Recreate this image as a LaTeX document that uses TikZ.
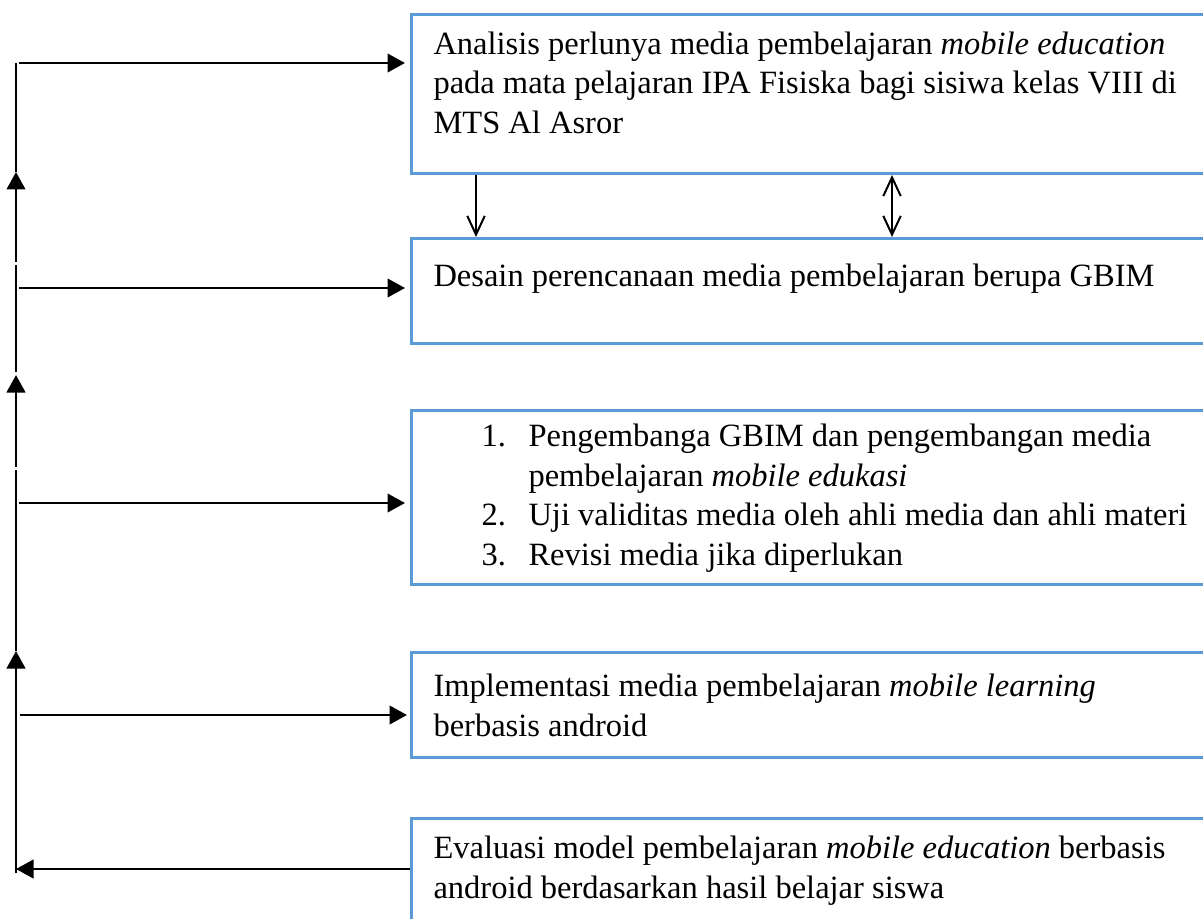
\documentclass[tikz,border=0pt]{standalone}
\usepackage{fontspec}
\setmainfont{Liberation Serif}
\usetikzlibrary{positioning, arrows.meta}
\definecolor{boxblue}{HTML}{5B9BD5}
\tikzset{
  stg/.style={draw=boxblue, line width=1.2pt, anchor=north west, inner xsep=8.8pt,
              inner ysep=0pt, font=\fontsize{13pt}{15.8pt}\selectfont},
  thn/.style={line width=0.7pt},
  tri/.style={line width=1.05pt, -{Triangle[length=7pt, width=7.4pt]}},
  barb/.style={line width=0.8pt, -{Straight Barb[length=7.5pt, width=7pt]}},
  dbarb/.style={line width=0.8pt, {Straight Barb[length=7.5pt, width=7pt]}-{Straight Barb[length=7.5pt, width=7pt]}},
}
% box text: total height, first baseline, lines
\newcommand{\stgtext}[3]{\parbox[t][#1][t]{310pt}{\rule{0pt}{#2}#3}}
\newcommand{\itm}[1]{\hspace*{19.2pt}\makebox[18.8pt][l]{#1}}

\begin{document}
\begin{tikzpicture}[x=0.4pt, y=-0.4pt]
        \useasboundingbox (0,0) rectangle (1203,918);
        \node[stg] (s1) at (410,13) {\stgtext{63.6pt}{16pt}{Analisis perlunya media pembelajaran \textit{mobile education}\\
            pada mata pelajaran IPA Fisiska bagi sisiwa kelas VIII di\\ MTS Al Asror}};
        \node[stg] (s2) at (410,237) {\stgtext{42pt}{19.2pt}{Desain perencanaan media pembelajaran berupa GBIM}};
        \node[stg] (s3) at (410,409) {\stgtext{69.6pt}{14.4pt}{\itm{1.}Pengembanga GBIM dan pengembangan media\\
            \hspace*{38pt}pembelajaran \textit{mobile edukasi}\\
            \itm{2.}Uji validitas media oleh ahli media dan ahli materi\\
            \itm{3.}Revisi media jika diperlukan}};
        \node[stg] (s4) at (410,651) {\stgtext{42pt}{17.6pt}{Implementasi media pembelajaran \textit{mobile learning}\\ berbasis android}};
        \node[stg] (s5) at (410,817) {\stgtext{60pt}{16pt}{Evaluasi model pembelajaran \textit{mobile education} berbasis\\
            android berdasarkan hasil belajar siswa}};
        % left feedback line
        \coordinate (v0) at (16,63);  \coordinate (v1) at (16,172);
        \coordinate (v2) at (16,262); \coordinate (v3) at (16,265);
        \coordinate (v4) at (16,372); \coordinate (v5) at (16,375);
        \coordinate (v6) at (16,467); \coordinate (v7) at (16,470);
        \coordinate (v8) at (16,651); \coordinate (v9) at (16,873);
        \draw[thn](v0)--(v1); \draw[tri](v2)--(v1);
        \draw[thn](v3)--(v4); \draw[tri](v6)--(v5);
        \draw[thn](v7)--(v8); \draw[tri](v9)--(v8);
        % arrows into the boxes
        \coordinate (h1) at (19,63);  \coordinate (h2) at (19,288);
        \coordinate (h3) at (19,503); \coordinate (h4) at (20,715);
        \coordinate (h5) at (16,869);
        \draw[tri, shorten >=2pt](h1)--(h1 -| s1.west);
        \draw[tri, shorten >=2pt](h2)--(h2 -| s2.west);
        \draw[tri, shorten >=2pt](h3)--(h3 -| s3.west);
        \draw[tri, shorten >=1.2pt](h4)--(h4 -| s4.west);
        \draw[tri](h5 -| s5.west)--(h5);
        % between first and second box
        \draw[barb]([xshift=26.4pt]s1.south west)--([xshift=26.4pt]s2.north west);
        \draw[dbarb]([xshift=192.8pt]s1.south west)--([xshift=192.8pt]s2.north west);
      \end{tikzpicture}
\end{document}
